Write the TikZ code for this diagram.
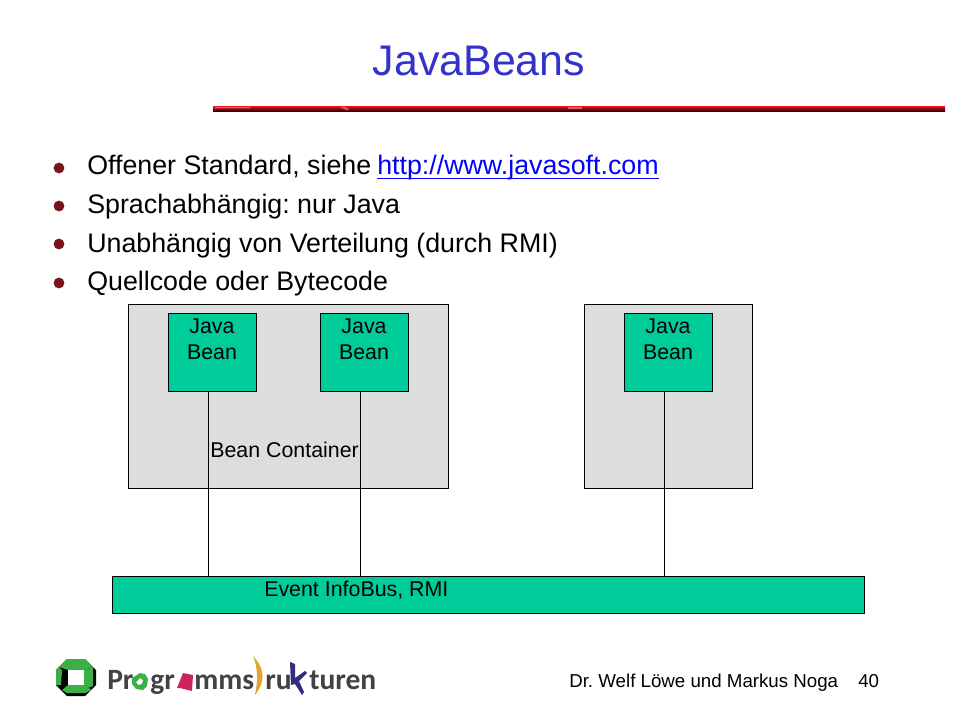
\documentclass[tikz,border=0pt]{standalone}
\usepackage{fontspec}
\usepackage{xcolor}
\setmainfont{Liberation Sans}
\newfontfamily\logofont{Carlito}
\AtBeginDocument{\frenchspacing}
\definecolor{titleblue}{RGB}{51,51,204}
\definecolor{beangreen}{RGB}{0,204,153}
\definecolor{boxgray}{RGB}{221,221,221}
\definecolor{linkblue}{RGB}{0,0,255}
\definecolor{bulletred}{RGB}{120,20,30}
\definecolor{rulered}{RGB}{205,10,30}
\definecolor{rulefleck}{RGB}{245,150,160}
\definecolor{logogreen}{RGB}{60,175,70}
\definecolor{logogray}{RGB}{65,65,70}
\definecolor{logopink}{RGB}{205,35,95}
\definecolor{logogold}{RGB}{225,165,45}
\definecolor{logoblue}{RGB}{50,45,125}
\tikzset{
  titletext/.style={font=\fontsize{30.5}{36}\selectfont, text=titleblue},
  bullettext/.style={anchor=base west, inner sep=0pt, font=\fontsize{19.05}{23}\selectfont},
  bulletdot/.style={circle, minimum size=0.27cm, inner sep=0pt, fill=bulletred},
  smalltext/.style={anchor=base west, inner sep=0pt, font=\fontsize{15.2}{18.5}\selectfont},
  footertext/.style={anchor=base west, inner sep=0pt, font=\fontsize{13.3}{16}\selectfont},
  containerbox/.style={draw=black, line width=0.6pt, fill=boxgray, anchor=north west, inner sep=0pt},
  beanbox/.style={draw=black, line width=0.6pt, fill=beangreen, anchor=north, inner sep=0pt,
    align=center, minimum width=2.2cm, text height=1.15cm, text depth=0.8cm, font=\fontsize{15.2}{18.5}\selectfont},
  logotext/.style={anchor=base west, inner sep=0pt, text=logogray, font=\logofont\bfseries\fontsize{21}{24}\selectfont},
  busline/.style={line width=0.6pt}
}
\begin{document}
\begin{tikzpicture}[x=0.025cm, y=-0.025cm]
    \useasboundingbox (0,0) rectangle (960,720);

    % title and rule
    \node[titletext] (title) at (479,61) {JavaBeans};
    \shade[top color=rulered, bottom color=black] (213,107) rectangle (945,112);
    \fill[rulefleck, opacity=0.6] (215,107) rectangle (250,108.5) (340,107) -- (345,107) -- (350,110) -- (346,110) -- cycle (568,107) rectangle (582,109);

    % bullets
    \node[bulletdot] (dota) at (59,168) {};
    \node[bulletdot] (dotb) at (59,206) {};
    \node[bulletdot] (dotc) at (59,244) {};
    \node[bulletdot] (dotd) at (59,283) {};
    \node[bullettext] (linea) at (87,175) {Offener Standard, siehe};
    \node[bullettext, text=linkblue] (link) at (377,175) {http://www.javasoft.com};
    \draw[linkblue, line width=0.8pt] ([yshift=-2.2pt]link.base west) -- ([yshift=-2.2pt]link.base east);
    \node[bullettext] (lineb) at (87,214) {Sprachabhängig: nur Java};
    \node[bullettext] (linec) at (87,253) {Unabhängig von Verteilung (durch RMI)};
    \node[bullettext] (lined) at (87,291) {Quellcode oder Bytecode};

    % containers
    \node[containerbox, minimum width=8cm, minimum height=4.6cm] (conta) at (128,304) {};
    \node[containerbox, minimum width=4.2cm, minimum height=4.6cm] (contb) at (584,304) {};
    \node[smalltext] (contlabel) at (210,458) {Bean Container};

    % bus
    \node[draw=black, line width=0.6pt, fill=beangreen, anchor=north west, inner sep=0pt,
      minimum width=18.8cm, minimum height=0.925cm] (bus) at (112,576) {};
    \node[smalltext] (buslabel) at (264,597) {Event InfoBus, RMI};

    % beans
    \node[beanbox] (beana) at (212,313) {Java\\Bean};
    \node[beanbox] (beanb) at (364,313) {Java\\Bean};
    \node[beanbox] (beanc) at (668,313) {Java\\Bean};

    % connections
    \coordinate (tapa) at (208,576);
    \coordinate (tapb) at (360,576);
    \coordinate (tapc) at (664,576);
    \draw[busline] (beana.south -| tapa) -- (tapa);
    \draw[busline] (beanb.south -| tapb) -- (tapb);
    \draw[busline] (beanc.south -| tapc) -- (tapc);

    % footer
    \node[footertext] (author) at (569,687) {Dr. Welf Löwe und Markus Noga};
    \node[footertext] (pageno) at (858,687) {40};

    % logo
    \fill[black] (67,659) -- (85,659) -- (96,670) -- (96,685) -- (85,696) -- (67,696) -- (56,685) -- (56,670) -- cycle;
    \fill[logogreen] (67,659) -- (85,659) -- (93,667) -- (84,670) -- (68,670) -- (59,667) -- cycle;
    \fill[logogreen] (68,685) -- (84,685) -- (92,690) -- (85,693) -- (67,693) -- (62,690) -- cycle;
    \fill[logogreen] (84,670) -- (93,667) -- (93,686) -- (88,688) -- (84,685) -- cycle;
    \fill[logogreen] (56,670) -- (59,667) -- (62,670) -- (61,685) -- (56,685) -- cycle;
    \fill[white] (68,670) rectangle (84,685);

    \node[logotext] (logoa) at (107,689) {Pr};
    \fill[logogreen, even odd rule] (140,673) -- (145,674) -- (148,679) -- (147,686) -- (143,690) -- (136,689) -- (132,684) -- (132,678) -- cycle
      (140,678) -- (143,680) -- (142,684) -- (138,685) -- (136,682) -- cycle;
    \node[logotext] (logob) at (150,689) {gr};
    \fill[logopink] (183,673) -- (193,675) -- (192,691) -- (180,688) -- (177,688) -- cycle;
    \node[logotext] (logoc) at (194,689) {mms};
    \fill[logogold] (253,656) .. controls (266,670) and (265,682) .. (255,695) .. controls (258,680) and (258,668) .. cycle;
    \node[logotext] (logod) at (265,689) {ru};
    \fill[logoblue] (290,662) -- (295,664) -- (295,678) -- (305,671) -- (307,673) -- (299,681) -- (304,692) -- (302,695) -- (295,684) -- (291,685) -- cycle;
    \node[logotext] (logoe) at (309,689) {turen};
\end{tikzpicture}
\end{document}
